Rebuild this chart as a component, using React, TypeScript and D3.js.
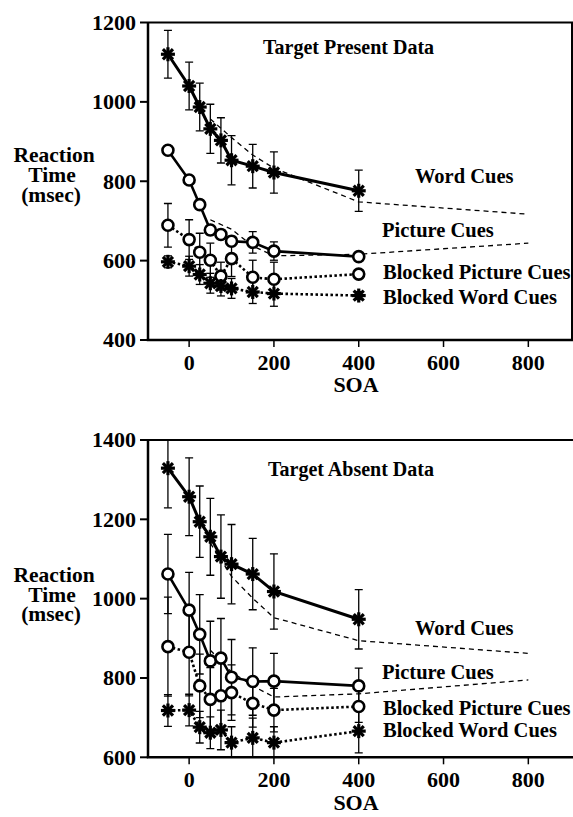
import React from "react";
import * as d3 from "d3";

const soa = [-50, 0, 25, 50, 75, 100, 150, 200, 400];
const dashSoa = [50, 100, 150, 200, 400, 800];
const xTicks = [0, 200, 400, 600, 800];

// Target Present
const presentWord = [1120, 1040, 987, 932, 903, 853, 838, 822, 776];
const presentWordErr = [60, 60, 60, 62, 57, 62, 55, 52, 52];
const presentPicture = [878, 803, 741, 677, 666, 649, 646, 624, 610];
const presentPictureErr = [10, 10, 12, 12, 12, 12, 27, 23, 10];
const presentBlockedPicture = [689, 653, 621, 601, 561, 605, 558, 553, 566];
const presentBlockedPictureErr = [55, 50, 48, 43, 35, 45, 43, 43, 10];
const presentBlockedWord = [597, 586, 565, 543, 536, 530, 521, 517, 512];
const presentBlockedWordErr = [15, 25, 25, 25, 25, 25, 29, 32, 10];
const presentDashWord = [957, 910, 866, 833, 748, 717];
const presentDashPicture = [703, 679, 637, 612, 616, 644];
const presentYTicks = [400, 600, 800, 1000, 1200];

// Target Absent
const absentWord = [1329, 1257, 1194, 1156, 1106, 1087, 1062, 1018, 948];
const absentWordErr = [100, 98, 90, 97, 105, 100, 90, 95, 75];
const absentPicture = [1062, 971, 910, 843, 850, 802, 791, 792, 780];
const absentPictureErr = [100, 95, 100, 100, 100, 95, 85, 70, 45];
const absentBlockedPicture = [879, 865, 780, 746, 755, 763, 736, 719, 728];
const absentBlockedPictureErr = [125, 110, 80, 80, 90, 70, 60, 55, 40];
const absentBlockedWord = [718, 719, 676, 662, 669, 637, 649, 637, 666];
const absentBlockedWordErr = [40, 40, 40, 40, 50, 40, 50, 40, 55];
const absentDashWord = [1140, 1056, 1001, 952, 894, 862];
const absentDashPicture = [870, 815, 780, 752, 760, 795];
const absentYTicks = [600, 800, 1000, 1200, 1400];

const legendNames = ["Word Cues", "Picture Cues", "Blocked Picture Cues", "Blocked Word Cues"];

const FONT = "'Liberation Serif', 'Times New Roman', serif";

type PanelProps = {
  id: string;
  top: number;
  bottom: number;
  yDomain: [number, number];
  yTicks: number[];
  title: string;
  titleX: number;
  titleY: number;
  ylabelY: number[];
  xLabelY: number;
  soaY: number;
  rightBorder: boolean;
  word: number[];
  wordErr: number[];
  picture: number[];
  pictureErr: number[];
  blockedPicture: number[];
  blockedPictureErr: number[];
  blockedWord: number[];
  blockedWordErr: number[];
  dashWord: number[];
  dashPicture: number[];
  legendPos: [number, number][];
};

function Asterisk({ x, y }: { x: number; y: number }) {
  const r = 7;
  const d = r * 0.72;
  return (
    <g stroke="#000" strokeWidth={3.2} strokeLinecap="butt">
      <line x1={x - r} y1={y} x2={x + r} y2={y} />
      <line x1={x} y1={y - r} x2={x} y2={y + r} />
      <line x1={x - d} y1={y - d} x2={x + d} y2={y + d} />
      <line x1={x - d} y1={y + d} x2={x + d} y2={y - d} />
    </g>
  );
}

function Panel(p: PanelProps) {
  const left = 148;
  const right = 572;
  const x = d3.scaleLinear().domain([-97, 903]).range([left, right]);
  const y = d3.scaleLinear().domain(p.yDomain).range([p.bottom, p.top]);
  const line = d3
    .line<[number, number]>()
    .x((d) => x(d[0]))
    .y((d) => y(d[1]));
  const pts = (vals: number[], xs: number[]) => vals.map((v, i) => [xs[i], v] as [number, number]);

  const errBars = (vals: number[], errs: number[], key: string) =>
    vals.map((v, i) => {
      const cx = x(soa[i]);
      const y1 = y(v + errs[i]);
      const y2 = y(v - errs[i]);
      return (
        <g key={key + i} stroke="#000" strokeWidth={1.3}>
          <line x1={cx} y1={y1} x2={cx} y2={y2} />
          <line x1={cx - 4} y1={y1} x2={cx + 4} y2={y1} />
          <line x1={cx - 4} y1={y2} x2={cx + 4} y2={y2} />
        </g>
      );
    });

  const clipId = "clip-" + p.id;

  return (
    <g fontFamily={FONT} fontWeight="bold" fill="#000">
      <defs>
        <clipPath id={clipId}>
          <rect x={left} y={p.top} width={573 - left} height={p.bottom - p.top} />
        </clipPath>
      </defs>
      <g clipPath={`url(#${clipId})`}>
        {/* dashed comparison lines */}
        <path d={line(pts(p.dashWord, dashSoa)) || ""} fill="none" stroke="#000" strokeWidth={1.3} strokeDasharray="5,4" />
        <path d={line(pts(p.dashPicture, dashSoa)) || ""} fill="none" stroke="#000" strokeWidth={1.3} strokeDasharray="5,4" />
        {/* error bars */}
        {errBars(p.word, p.wordErr, "w")}
        {errBars(p.picture, p.pictureErr, "p")}
        {errBars(p.blockedPicture, p.blockedPictureErr, "bp")}
        {errBars(p.blockedWord, p.blockedWordErr, "bw")}
      </g>
      {/* series lines */}
      <path d={line(pts(p.word, soa)) || ""} fill="none" stroke="#000" strokeWidth={3} />
      <path d={line(pts(p.picture, soa)) || ""} fill="none" stroke="#000" strokeWidth={2.6} />
      <path d={line(pts(p.blockedPicture, soa)) || ""} fill="none" stroke="#000" strokeWidth={2.6} strokeDasharray="2.5,2.5" />
      <path d={line(pts(p.blockedWord, soa)) || ""} fill="none" stroke="#000" strokeWidth={2.6} strokeDasharray="2.5,2.5" />
      {/* markers */}
      {p.picture.map((v, i) => (
        <circle key={"pc" + i} cx={x(soa[i])} cy={y(v)} r={5.5} fill="#fff" stroke="#000" strokeWidth={2.6} />
      ))}
      {p.blockedPicture.map((v, i) => (
        <circle key={"bpc" + i} cx={x(soa[i])} cy={y(v)} r={5.5} fill="#fff" stroke="#000" strokeWidth={2.6} />
      ))}
      {p.word.map((v, i) => (
        <Asterisk key={"wa" + i} x={x(soa[i])} y={y(v)} />
      ))}
      {p.blockedWord.map((v, i) => (
        <Asterisk key={"bwa" + i} x={x(soa[i])} y={y(v)} />
      ))}
      {/* axes */}
      <line x1={left} y1={p.top} x2={left} y2={p.bottom} stroke="#000" strokeWidth={2.5} />
      <line x1={left - 1.25} y1={p.bottom} x2={573} y2={p.bottom} stroke="#000" strokeWidth={2.5} />
      <line x1={left} y1={p.top} x2={573} y2={p.top} stroke="#000" strokeWidth={2} />
      {p.rightBorder && <line x1={right} y1={p.top} x2={right} y2={p.bottom} stroke="#000" strokeWidth={2} />}
      {p.yTicks.map((t) => (
        <g key={"yt" + t}>
          <line x1={left - 8} y1={y(t)} x2={left} y2={y(t)} stroke="#000" strokeWidth={2} />
          <text x={136} y={y(t)} dy="0.34em" textAnchor="end" fontSize={22}>
            {t}
          </text>
        </g>
      ))}
      {xTicks.map((t) => (
        <g key={"xt" + t}>
          <line x1={x(t)} y1={p.bottom} x2={x(t)} y2={p.bottom + 7} stroke="#000" strokeWidth={1.5} />
          <text x={x(t)} y={p.xLabelY} textAnchor="middle" fontSize={22}>
            {t}
          </text>
        </g>
      ))}
      <text x={356} y={p.soaY} textAnchor="middle" fontSize={22}>
        SOA
      </text>
      <text x={p.titleX} y={p.titleY} fontSize={20}>
        {p.title}
      </text>
      <text x={54} y={p.ylabelY[0]} textAnchor="middle" fontSize={21.5}>Reaction</text>
      <text x={52} y={p.ylabelY[1]} textAnchor="middle" fontSize={21.5}>Time</text>
      <text x={51} y={p.ylabelY[2]} textAnchor="middle" fontSize={21.5}>(msec)</text>
      {legendNames.map((n, i) => (
        <text key={n} x={p.legendPos[i][0]} y={p.legendPos[i][1]} fontSize={20.5}>
          {n}
        </text>
      ))}
    </g>
  );
}

export default function App() {
  return (
    <svg width={573} height={817} style={{ position: "absolute", left: 0, top: 0, background: "#fff" }}>
      <rect width={573} height={817} fill="#fff" />
      <Panel
        id="present"
        top={22.5}
        bottom={340}
        yDomain={[400, 1200]}
        yTicks={presentYTicks}
        title="Target Present Data"
        titleX={263}
        titleY={54}
        ylabelY={[162, 182, 202]}
        xLabelY={370}
        soaY={392}
        rightBorder={true}
        word={presentWord}
        wordErr={presentWordErr}
        picture={presentPicture}
        pictureErr={presentPictureErr}
        blockedPicture={presentBlockedPicture}
        blockedPictureErr={presentBlockedPictureErr}
        blockedWord={presentBlockedWord}
        blockedWordErr={presentBlockedWordErr}
        dashWord={presentDashWord}
        dashPicture={presentDashPicture}
        legendPos={[[415, 183], [382, 237], [383, 279], [383, 304]]}
      />
      <Panel
        id="absent"
        top={440}
        bottom={757.3}
        yDomain={[600, 1400]}
        yTicks={absentYTicks}
        title="Target Absent Data"
        titleX={268}
        titleY={476}
        ylabelY={[582, 602, 621]}
        xLabelY={787}
        soaY={810}
        rightBorder={false}
        word={absentWord}
        wordErr={absentWordErr}
        picture={absentPicture}
        pictureErr={absentPictureErr}
        blockedPicture={absentBlockedPicture}
        blockedPictureErr={absentBlockedPictureErr}
        blockedWord={absentBlockedWord}
        blockedWordErr={absentBlockedWordErr}
        dashWord={absentDashWord}
        dashPicture={absentDashPicture}
        legendPos={[[415, 635], [382, 679], [383, 715], [383, 737]]}
      />
    </svg>
  );
}
